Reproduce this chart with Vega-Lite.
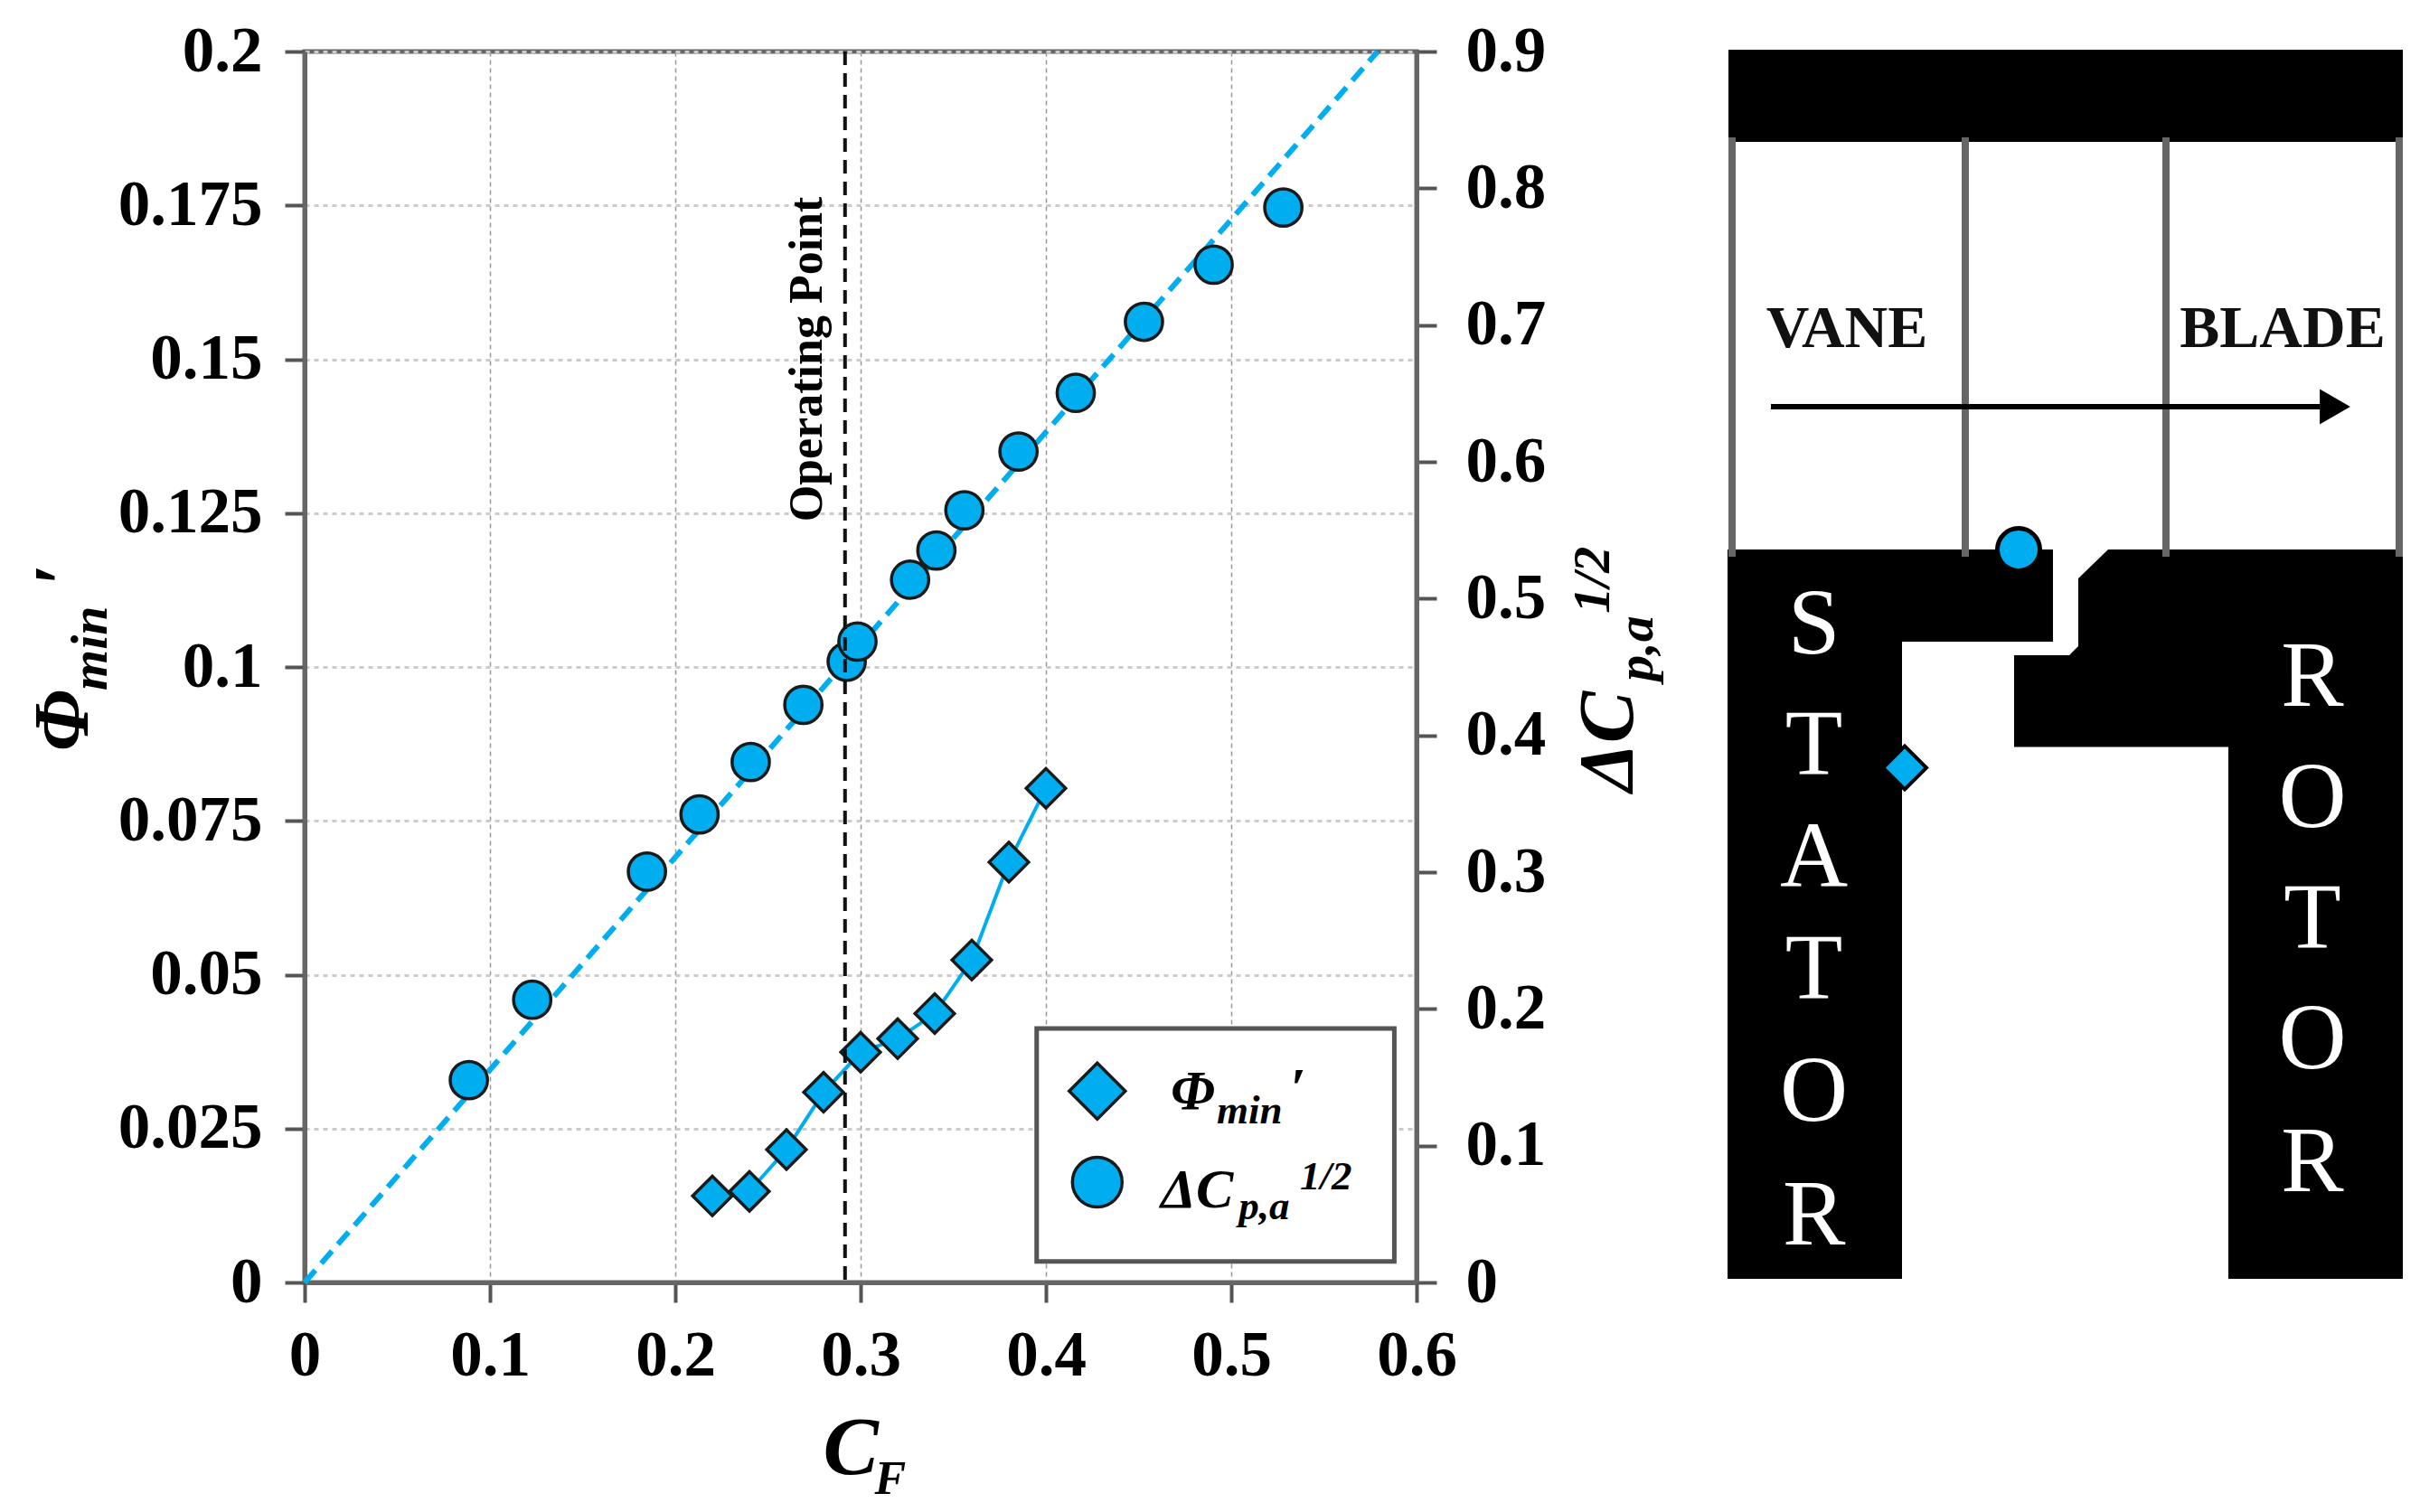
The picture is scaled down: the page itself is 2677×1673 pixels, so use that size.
{
"$schema":"https://vega.github.io/schema/vega-lite/v6.json",
"background":"white",
"padding":{"left":25,"top":18,"right":0,"bottom":0},
"bounds":"flush",
"spacing":334,
"config":{"axis":{"labelFont":"Liberation Serif","labelFontWeight":"bold","labelFontSize":71,"labelColor":"#000","tickColor":"#555","tickWidth":4,"tickSize":22,"domainColor":"#666","domainWidth":5,"labelOverlap":false,"labelBound":false,"labelFlush":false,"title":null}},
"hconcat":[
{"width":1230,"height":1362,"view":{"stroke":"#666","strokeWidth":5},
"resolve":{"scale":{"y":"independent"},"axis":{"y":"independent"}},
"encoding":{"x":{"field":"x","type":"quantitative","scale":{"domain":[0,0.6],"nice":false},
 "axis":{"orient":"bottom","values":[0,0.1,0.2,0.3,0.4,0.5,0.6],"format":".1~f","labelPadding":24,"grid":true,"gridColor":"#999","gridWidth":1.5,"gridDash":[5,4]}}},
"layer":[
 {"encoding":{"y":{"field":"y","type":"quantitative","scale":{"domain":[0,0.2],"nice":false},
   "axis":{"orient":"left","values":[0,0.025,0.05,0.075,0.1,0.125,0.15,0.175,0.2],"format":".3~f","labelPadding":25,"grid":true,"gridColor":"#ccc","gridWidth":3,"gridDash":[5,5]}}},
  "layer":[
   {"data":{"name":"phi"},"mark":{"type":"line","color":"#00AEEF","strokeWidth":4},"encoding":{}},
   {"data":{"name":"phi"},"mark":{"type":"point","shape":"diamond","filled":true,"fill":"#00AEEF","stroke":"#1a1a1a","strokeWidth":3.5,"size":1900,"opacity":1},"encoding":{}},
   {"data":{"values":[{"x":0.395,"x2":0.588,"y":0.0034,"y2":0.04126}]},"mark":{"type":"rect","fill":"white","stroke":"#555","strokeWidth":5},"encoding":{"x2":{"field":"x2"},"y2":{"field":"y2"}}},
   {"data":{"values":[{"x":0.4277,"y":0.0311}]},"mark":{"type":"point","shape":"diamond","filled":true,"fill":"#00AEEF","stroke":"#1a1a1a","strokeWidth":3.5,"size":3844,"opacity":1},"encoding":{}},
   {"data":{"values":[{"x":0.4277,"y":0.0163}]},"mark":{"type":"point","shape":"circle","filled":true,"fill":"#00AEEF","stroke":"#1a1a1a","strokeWidth":3.5,"size":3019,"opacity":1},"encoding":{}},
   {"data":{"values":[{"x":0.2788,"y":0.15,"t":"Operating Point"}]},"mark":{"type":"text","font":"Liberation Serif","fontWeight":"bold","fontSize":52,"angle":270,"align":"center","baseline":"alphabetic","color":"#000"},"encoding":{"text":{"field":"t"}}},
   {"data":{"values":[{"x":0.4673,"y":0.0282,"t":"Φ"},{"x":0.5317,"y":0.0286,"t":"′"},{"x":0.462,"y":0.01226,"t":"ΔC"}]},"mark":{"type":"text","font":"Liberation Serif","fontWeight":"bold","fontStyle":"italic","fontSize":62,"align":"left","baseline":"alphabetic","color":"#000"},"encoding":{"text":{"field":"t"}}},
   {"data":{"values":[{"x":0.4922,"y":0.0259,"t":"min"},{"x":0.504,"y":0.01028,"t":"p,a"},{"x":0.5371,"y":0.01512,"t":"1/2"}]},"mark":{"type":"text","font":"Liberation Serif","fontWeight":"bold","fontStyle":"italic","fontSize":45,"align":"left","baseline":"alphabetic","color":"#000"},"encoding":{"text":{"field":"t"}}},
   {"data":{"values":[{"x":0.2798,"y":-0.0311,"t":"C"}]},"mark":{"type":"text","font":"Liberation Serif","fontWeight":"bold","fontStyle":"italic","fontSize":92,"align":"left","baseline":"alphabetic","color":"#000"},"encoding":{"text":{"field":"t"}}},
   {"data":{"values":[{"x":0.3076,"y":-0.0344,"t":"F"}]},"mark":{"type":"text","font":"Liberation Serif","fontWeight":"bold","fontStyle":"italic","fontSize":52,"align":"left","baseline":"alphabetic","color":"#000"},"encoding":{"text":{"field":"t"}}},
   {"data":{"values":[{"x":-0.1172,"y":0.0863,"t":"Φ"},{"x":-0.1172,"y":0.1131,"t":"′"},{"x":0.7168,"y":0.0797,"t":"ΔC"}]},"mark":{"type":"text","font":"Liberation Serif","fontWeight":"bold","fontStyle":"italic","fontSize":86,"angle":270,"align":"left","baseline":"alphabetic","color":"#000"},"encoding":{"text":{"field":"t"}}},
   {"data":{"values":[{"x":-0.107,"y":0.0962,"t":"min"},{"x":0.7275,"y":0.0977,"t":"p,a"},{"x":0.7041,"y":0.1087,"t":"1/2"}]},"mark":{"type":"text","font":"Liberation Serif","fontWeight":"bold","fontStyle":"italic","fontSize":58,"angle":270,"align":"left","baseline":"alphabetic","color":"#000"},"encoding":{"text":{"field":"t"}}}
  ]},
 {"encoding":{"y":{"field":"y","type":"quantitative","scale":{"domain":[0,0.9],"nice":false},
   "axis":{"orient":"right","values":[0,0.1,0.2,0.3,0.4,0.5,0.6,0.7,0.8,0.9],"format":".1~f","labelPadding":32,"grid":false}}},
  "layer":[
   {"data":{"values":[{"x":0,"y":0},{"x":0.579,"y":0.9}]},"mark":{"type":"line","color":"#00AEEF","strokeWidth":6,"strokeDash":[18,10]},"encoding":{}},
   {"data":{"name":"dcp"},"mark":{"type":"point","shape":"circle","filled":true,"fill":"#00AEEF","stroke":"#1a1a1a","strokeWidth":3.5,"size":1700,"opacity":1},"encoding":{}}
  ]},
 {"data":{"values":[{"x":0.2916}]},"mark":{"type":"rule","color":"#111","strokeWidth":4,"strokeDash":[15,9]},"encoding":{}}
]},
{"width":777,"height":1362,"view":{"stroke":null},
"encoding":{"x":{"field":"x","type":"quantitative","scale":{"domain":[0,777],"nice":false},"axis":null},
 "y":{"field":"y","type":"quantitative","scale":{"domain":[0,1362],"nice":false,"reverse":true},"axis":null}},
"layer":[
 {"data":{"values":[{"x":15,"y":95,"y2":559},{"x":273,"y":95,"y2":559},{"x":495,"y":95,"y2":559},{"x":753,"y":95,"y2":559}]},"mark":{"type":"rule","color":"#666","strokeWidth":8},"encoding":{"y2":{"field":"y2"}}},
 {"data":{"values":[
  {"x":11,"x2":757,"y":-2,"y2":100},
  {"x":10,"x2":203,"y":551,"y2":1358},{"x":203,"x2":370,"y":551,"y2":653},
  {"x":327,"x2":398,"y":668,"y2":769.5},{"x":398,"x2":431,"y":583,"y2":769.5},{"x":431,"x2":564,"y":551,"y2":769.5},{"x":564,"x2":757,"y":551,"y2":1358}
 ]},"mark":{"type":"rect","fill":"#000"},"encoding":{"x2":{"field":"x2"},"y2":{"field":"y2"}}},
 {"data":{"values":[{"x":398,"y":583,"y2":584},{"x":431,"y":551,"y2":584}]},"mark":{"type":"area","fill":"#000"},"encoding":{"y2":{"field":"y2"}}},
 {"data":{"values":[{"x":388,"y":668,"y2":669},{"x":398,"y":658,"y2":669}]},"mark":{"type":"area","fill":"#000"},"encoding":{"y2":{"field":"y2"}}},
 {"data":{"values":[{"x":15,"y":551,"y2":559},{"x":273,"y":551,"y2":559},{"x":495,"y":551,"y2":559},{"x":753,"y":551,"y2":559},{"x":15,"y":95,"y2":100},{"x":273,"y":95,"y2":100},{"x":495,"y":95,"y2":100},{"x":753,"y":95,"y2":100}]},"mark":{"type":"rule","color":"#666","strokeWidth":8},"encoding":{"y2":{"field":"y2"}}},
 {"data":{"values":[{"x":58,"x2":665,"y":393}]},"mark":{"type":"rule","color":"#000","strokeWidth":6},"encoding":{"x2":{"field":"x2"}}},
 {"data":{"values":[{"x":682,"y":393}]},"mark":{"type":"point","shape":"triangle-right","filled":true,"fill":"#000","stroke":null,"size":1521,"opacity":1},"encoding":{}},
 {"data":{"values":[{"x":142,"y":327,"t":"VANE"},{"x":624,"y":327,"t":"BLADE"}]},"mark":{"type":"text","font":"Liberation Serif","fontWeight":"bold","fontSize":66,"align":"center","baseline":"alphabetic","color":"#111"},"encoding":{"text":{"field":"t"}}},
 {"data":{"values":[{"x":105.6,"y":666,"t":"S"},{"x":105.6,"y":800,"t":"T"},{"x":105.6,"y":924,"t":"A"},{"x":105.6,"y":1048,"t":"T"},{"x":105.6,"y":1183,"t":"O"},{"x":105.6,"y":1320,"t":"R"},{"x":657,"y":724,"t":"R"},{"x":657,"y":858,"t":"O"},{"x":657,"y":992,"t":"T"},{"x":657,"y":1125,"t":"O"},{"x":657,"y":1261,"t":"R"}]},"mark":{"type":"text","font":"Liberation Serif","fontSize":104,"align":"center","baseline":"alphabetic","color":"#fff"},"encoding":{"text":{"field":"t"}}},
 {"data":{"values":[{"x":332,"y":551}]},"mark":{"type":"point","shape":"circle","filled":true,"fill":"#00AEEF","stroke":"#000","strokeWidth":5,"size":2206,"opacity":1},"encoding":{}},
 {"data":{"values":[{"x":206,"y":792.5}]},"mark":{"type":"point","shape":"diamond","filled":true,"fill":"#00AEEF","stroke":"#000","strokeWidth":4,"size":2304,"opacity":1},"encoding":{}}
]}
],
"datasets":{
"phi":[{"x":0.22,"y":0.01405},{"x":0.24,"y":0.0148},{"x":0.26,"y":0.0216},{"x":0.28,"y":0.0309},{"x":0.30,"y":0.0374},{"x":0.32,"y":0.0396},{"x":0.34,"y":0.0437},{"x":0.36,"y":0.0524},{"x":0.38,"y":0.0683},{"x":0.40,"y":0.0803}],
"dcp":[{"x":0.0886,"y":0.1479},{"x":0.1228,"y":0.2067},{"x":0.1847,"y":0.3004},{"x":0.2131,"y":0.3422},{"x":0.2407,"y":0.3805},{"x":0.2691,"y":0.4223},{"x":0.2925,"y":0.4539},{"x":0.2983,"y":0.4686},{"x":0.3267,"y":0.5138},{"x":0.3409,"y":0.5352},{"x":0.356,"y":0.5646},{"x":0.3852,"y":0.6075},{"x":0.4161,"y":0.6504},{"x":0.4529,"y":0.7024},{"x":0.4905,"y":0.7441},{"x":0.5281,"y":0.7859}]
}
}
